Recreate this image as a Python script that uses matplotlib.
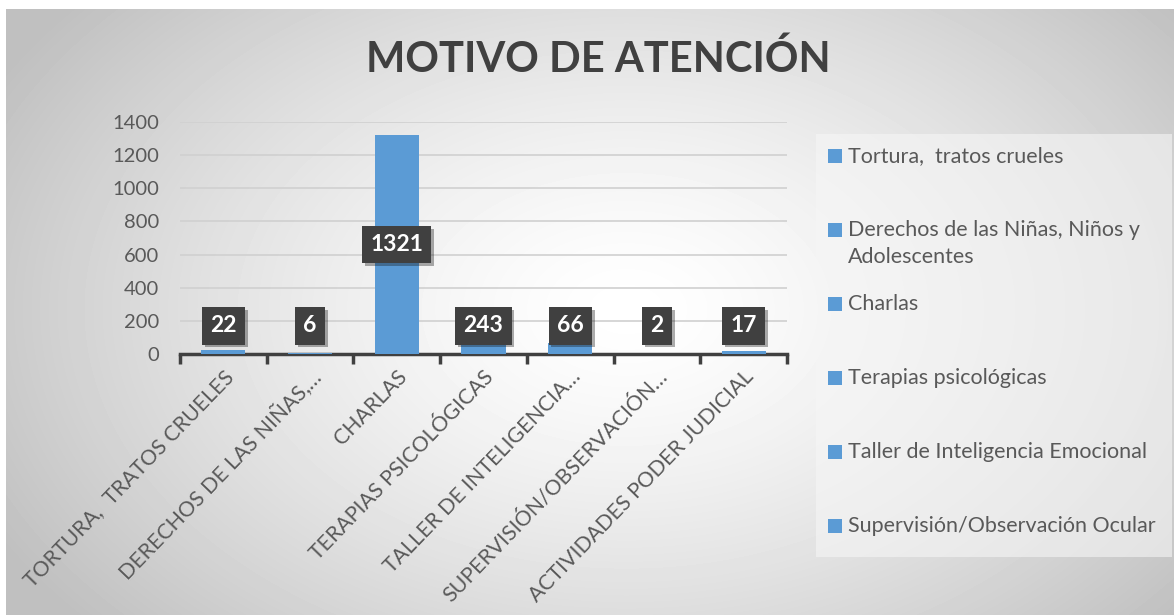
import matplotlib
matplotlib.use("Agg")
import matplotlib.pyplot as plt
import matplotlib.patheffects as pe
from matplotlib.patches import Rectangle
import numpy as np

plt.rcParams['font.family'] = ['Lato', 'DejaVu Sans']

# data
categories = ["Tortura,  tratos crueles",
              "Derechos de las Niñas, Niños y Adolescentes",
              "Charlas",
              "Terapias psicológicas",
              "Taller de Inteligencia Emocional",
              "Supervisión/Observación Ocular",
              "Actividades Poder Judicial"]
tick_labels = ["TORTURA,  TRATOS CRUELES",
               "DERECHOS DE LAS NIÑAS,…",
               "CHARLAS",
               "TERAPIAS PSICOLÓGICAS",
               "TALLER DE INTELIGENCIA…",
               "SUPERVISIÓN/OBSERVACIÓN…",
               "ACTIVIDADES PODER JUDICIAL"]
values = [22, 6, 1321, 243, 66, 2, 17]
legend_labels = ["Tortura,  tratos crueles",
                 "Derechos de las Niñas, Niños y\nAdolescentes",
                 "Charlas",
                 "Terapias psicológicas",
                 "Taller de Inteligencia Emocional",
                 "Supervisión/Observación Ocular"]

bar_color = '#5b9bd5'
text_color = '#595959'
W, H = 1174, 615

fig = plt.figure(figsize=(W / 100, H / 100), dpi=100)

# gradient background of the chart area
bg = fig.add_axes([6 / W, 0, 1 - 6 / W, 606 / H], zorder=-10)
gx, gy = np.meshgrid(np.arange(1168), np.arange(606))
d = np.sqrt(((gx - 620) / 720.0) ** 2 + ((gy - 300) / 480.0) ** 2)
shade = 1 - 0.25 * np.clip(d, 0, 1) ** 1.4
bg.imshow(shade, cmap='gray', vmin=0, vmax=1, aspect='auto', interpolation='bilinear')
bg.axis('off')

# main axes
ax = fig.add_axes([180 / W, 261 / H, 607 / W, 232 / H])
ax.patch.set_alpha(0)
x = np.arange(len(values))
ax.bar(x, values, width=0.51, color=bar_color, zorder=3)
ax.set_xlim(-0.5, len(values) - 0.5)
ax.set_ylim(0, 1400)
ax.set_yticks(range(0, 1401, 200))
ax.grid(axis='y', color='#d0d0d0', linewidth=1.2, zorder=0)
for s in ['top', 'right', 'left']:
    ax.spines[s].set_visible(False)
ax.spines['bottom'].set_color('#404040')
ax.spines['bottom'].set_linewidth(2.5)
ax.tick_params(axis='y', length=0, labelsize=14.5, labelcolor=text_color, pad=15)
ax.set_xticks(x)
ax.set_xticklabels(tick_labels, rotation=46, ha='right', rotation_mode='anchor',
                   fontsize=15.3, color=text_color)
ax.tick_params(axis='x', which='major', length=0, pad=9)
ax.set_xticks(np.arange(-0.5, len(values)), minor=True)
ax.tick_params(axis='x', which='minor', length=7, width=2.5, color='#404040')

# data labels
for xi, v in zip(x, values):
    ypos = max(v / 2.0, 170)
    t = ax.text(xi, ypos, str(v), ha='center', va='center', fontsize=16.5,
                fontweight='bold', color='white', zorder=5,
                bbox=dict(boxstyle='square,pad=0.36', facecolor='#404040',
                          edgecolor='none'))
    t.get_bbox_patch().set_path_effects(
        [pe.withSimplePatchShadow(offset=(2, -2), alpha=0.35)])

# title
fig.text(598 / W, 1 - 59 / H, "MOTIVO DE ATENCIÓN", ha='center', va='center',
         fontsize=30, fontweight='bold', color='#404040')

# legend panel
fig.patches.append(Rectangle((816 / W, 1 - 557 / H), (1172 - 816) / W, (557 - 134) / H,
                             transform=fig.transFigure, facecolor='#f6f6f6',
                             alpha=0.6, edgecolor='none', zorder=1))
for i, lab in enumerate(legend_labels):
    yc = 156 + i * 74
    fig.patches.append(Rectangle((828 / W, 1 - (yc + 7) / H), 14 / W, 14 / H,
                                 transform=fig.transFigure, facecolor=bar_color,
                                 edgecolor='none', zorder=2))
    for j, line in enumerate(lab.split('\n')):
        fig.text(848 / W, 1 - (yc + j * 27) / H, line, ha='left', va='center',
                 fontsize=15.5, color=text_color)

fig.savefig('out.png', dpi=100)
